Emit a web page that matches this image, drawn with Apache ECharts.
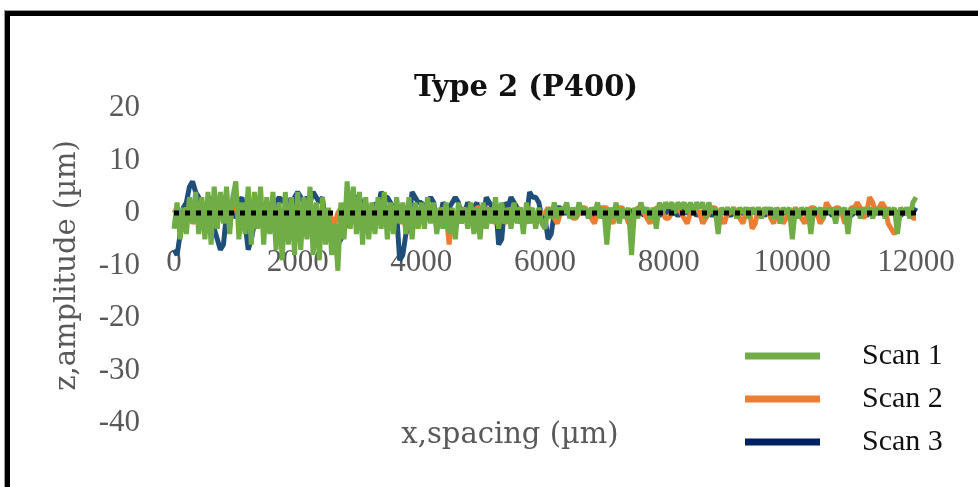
<!DOCTYPE html>
<html>
<head>
<meta charset="utf-8">
<script src="https://cdn.jsdelivr.net/npm/echarts@6/dist/echarts.min.js"></script>
<style>
html,body{margin:0;padding:0;background:#fff;}
#wrap{position:relative;width:978px;height:487px;overflow:hidden;}
#frame{position:absolute;left:5px;top:11px;width:1000px;height:500px;border-left:5px solid #000;border-top:5px solid #000;box-shadow:-1px -1px 0 #999;}
#main{position:absolute;left:0;top:0;width:978px;height:487px;}
</style>
</head>
<body>
<div id="wrap"><div id="frame"></div><div id="main"></div></div>
<script>
// x positions (um), one sample per 50 um
var xPos=[];
for(var i=0;i<=240;i++){xPos.push(i*50)}
// Scan 1 (green), 20 values per 1000 um
var scan1=[
	-3,2,-5,1,-4,3,-2,4,-4,3,-5,4,-6,5,-3,4,-2,5,-4,3,
	6,-5,2,-4,5,-6,4,-3,5,-6,3,-4,4,-7,2,-9,4,-6,3,-8,
	4,-7,3,-5,5,-8,2,-9,3,-6,1,-8,-2,-11,2,-5,6,-3,5,-4,
	4,-6,3,-5,2,-4,3,-3,4,-5,2,-4,3,-2,2,-4,3,-5,2,-3,
	2,-3,3,-2,2,-4,1,-3,2,-4,1,-5,2,-2,1,-3,2,-4,1,-5,
	2,-3,1,-2,3,-3,2,-2,1,-3,2,-2,1,-4,2,-2,1,-3,1,-2,
	-3,1,-1,2,-1,1,0,2,-1,1,-1,2,0,1,-1,1,0,2,-1,1,
	-6,1,-1,2,-2,1,-1,1,-8,1,-1,2,0,1,-1,1,-3,2,0,2,
	1,2,0,2,1,2,0,2,0,2,1,2,-1,2,0,1,-4,1,0,1,
	0,1,-1,1,0,1,-1,1,0,1,-1,1,0,1,-1,1,-2,1,0,1,
	-5,1,-1,1,0,1,-4,1,0,1,-1,1,0,1,-2,1,0,1,-4,1,
	0,1,-1,1,0,1,-1,1,0,1,-1,1,0,1,-4,1,0,1,-1,2,
	3];
// Scan 2 (orange)
var scan2=[
	0,1,-1,-2,1,0,-2,-1,0,1,2,-1,-1,-2,-1,0,1,-1,-2,1,
	1,0,-2,-1,0,1,-1,-2,1,-1,-2,0,1,1,0,-1,-2,0,1,1,
	1,0,-1,0,1,1,-2,-1,1,0,0,-1,-2,0,1,0,1,-2,-1,1,
	1,0,1,-1,-2,1,0,-2,-1,0,1,1,0,-1,-2,0,1,-2,-1,0,
	1,0,-1,0,1,-3,-2,1,0,-6,-1,-1,0,0,1,-2,-1,0,1,1,
	0,1,0,-1,-2,0,1,-2,-1,1,0,0,1,-1,-2,1,0,-2,-1,0,
	0,1,0,-1,-2,0,1,1,0,-1,-1,0,1,1,0,-1,-2,0,1,1,
	1,-1,-2,0,1,1,0,-2,-1,0,1,1,0,-1,-2,0,1,1,0,-1,
	-1,0,1,1,0,-1,-2,0,1,1,0,-2,-1,0,1,1,0,-1,-2,0,
	0,1,0,-1,-2,0,1,-3,-2,1,0,0,1,-1,-2,1,0,-2,-1,0,
	0,1,0,-1,-2,0,1,1,0,-2,-1,2,1,0,1,1,0,-2,-1,1,
	1,2,1,-1,0,3,2,0,1,2,1,-2,-3,-4,-3,1,0,0,1,-1,
	-1];
// Scan 3 (navy)
var scan3=[
	-7,-8,-4,1,2,5,6,4,3,-1,-2,2,3,-3,-5,-7,-6,0,2,1,
	-1,2,3,-2,-7,-5,-2,1,2,0,-1,0,1,2,3,2,3,2,1,3,
	4,3,2,3,2,4,3,2,3,-2,-1,-4,-3,-6,-5,-3,-2,2,1,3,
	3,1,2,-3,-2,2,1,4,3,3,2,1,0,-9,-8,-4,-2,4,3,2,
	2,1,2,3,2,-2,-1,2,1,1,2,3,2,-1,0,2,1,1,2,-2,
	-1,3,2,1,2,-6,-5,2,1,3,2,1,0,-2,-1,4,3,3,2,-1,
	-1,-5,-4,0,1,1,0,0,0.5,0.5,-0.5,0,0,0.5,0,0,-0.5,0,0.5,0,
	0,-0.5,0,0.5,0,0,-0.5,0,0.5,0,0,0.5,-0.5,0,0,0.5,0,-0.5,0,0,
	0.5,0,0,-0.5,0,0.5,0,0,0.5,-0.5,0,0,0.5,0,-0.5,0,0,0.5,0,0,
	-0.5,0,0.5,0,0,-0.5,0,0.5,0,0,0.5,-0.5,0,0,0.5,0,-0.5,0,0,0.5,
	0,0,-0.5,0,0.5,0,0,0.5,-0.5,0,0,0.5,0,-0.5,0,0,0.5,0,0,-0.5,
	0,0.5,0,0,-0.5,0,0.5,0,0,0.5,-0.5,0,0,0.5,0,-0.5,0,0,0.5,0,
	1];
// dotted reference line
var refX=[0,12000];
var refY=[0,0];
var yTicks={min:-40,max:20,step:10};
var xTicks={min:0,max:12000,step:2000};

function pairs(xs,ys){
	var out=[];
	for(var i=0;i<ys.length;i++){out.push([xs[i],ys[i]])}
	return out;
}

var numFont='"Liberation Serif", serif';
var txtFont='"DejaVu Serif", serif';
var gray='#595959';

var myChart=echarts.init(document.getElementById('main'));
var option={
	animation:false,
	title:{
		text:'Type 2 (P400)',
		left:521,
		top:69,
		textAlign:'center',
		textStyle:{fontFamily:txtFont,fontWeight:'bold',fontSize:29,color:'#111'}
	},
	legend:{
		orient:'vertical',
		left:745,
		top:339,
		padding:0,
		itemWidth:75,
		itemHeight:7,
		itemGap:9,
		icon:'rect',
		data:[
			{name:'Scan 1'},
			{name:'Scan 2'},
			{name:'Scan 3',itemStyle:{color:'#002060'}}
		],
		textStyle:{fontFamily:numFont,fontSize:30,color:'#111',lineHeight:34,padding:[0,0,0,37]}
	},
	grid:{left:174,right:62,top:108,bottom:64,containLabel:false,outerBoundsMode:'none'},
	xAxis:{
		type:'value',
		position:'bottom',
		// the axis sits at z=0 (plot bottom is at -40): 6 steps of 52.5px, 4 of them
		offset:-210,
		min:xTicks.min,max:xTicks.max,interval:xTicks.step,
		name:'x,spacing (µm)',
		nameLocation:'middle',
		nameGap:208,
		nameTextStyle:{fontFamily:txtFont,fontSize:29,color:gray,padding:[0,70,0,0]},
		axisLine:{show:false,onZero:false},
		axisTick:{show:false},
		splitLine:{show:false},
		axisLabel:{fontFamily:numFont,fontSize:31,color:gray,margin:34,
			formatter:function(v){return String(v)}}
	},
	yAxis:{
		type:'value',
		min:yTicks.min,max:yTicks.max,interval:yTicks.step,
		name:'z,amplitude (µm)',
		nameLocation:'middle',
		nameGap:92,
		nameTextStyle:{fontFamily:txtFont,fontSize:29,color:gray},
		axisLine:{show:false,onZero:false},
		axisTick:{show:false},
		splitLine:{show:false},
		axisLabel:{fontFamily:numFont,fontSize:31,color:gray,margin:34}
	},
	series:[
		{name:'Scan 3',type:'line',z:2,showSymbol:false,data:pairs(xPos,scan3),
			color:'#1F4E79',lineStyle:{width:5,color:'#1F4E79'}},
		{name:'Scan 2',type:'line',z:3,showSymbol:false,data:pairs(xPos,scan2),
			color:'#ED7D31',lineStyle:{width:5,color:'#ED7D31'}},
		{name:'Scan 1',type:'line',z:4,showSymbol:false,data:pairs(xPos,scan1),
			color:'#70AD47',lineStyle:{width:5,color:'#70AD47'}},
		{name:'ref',type:'line',z:5,showSymbol:false,data:pairs(refX,refY),
			lineStyle:{width:5,color:'#000',type:[5,6]}}
	]
};
myChart.setOption(option);
</script>
</body>
</html>
